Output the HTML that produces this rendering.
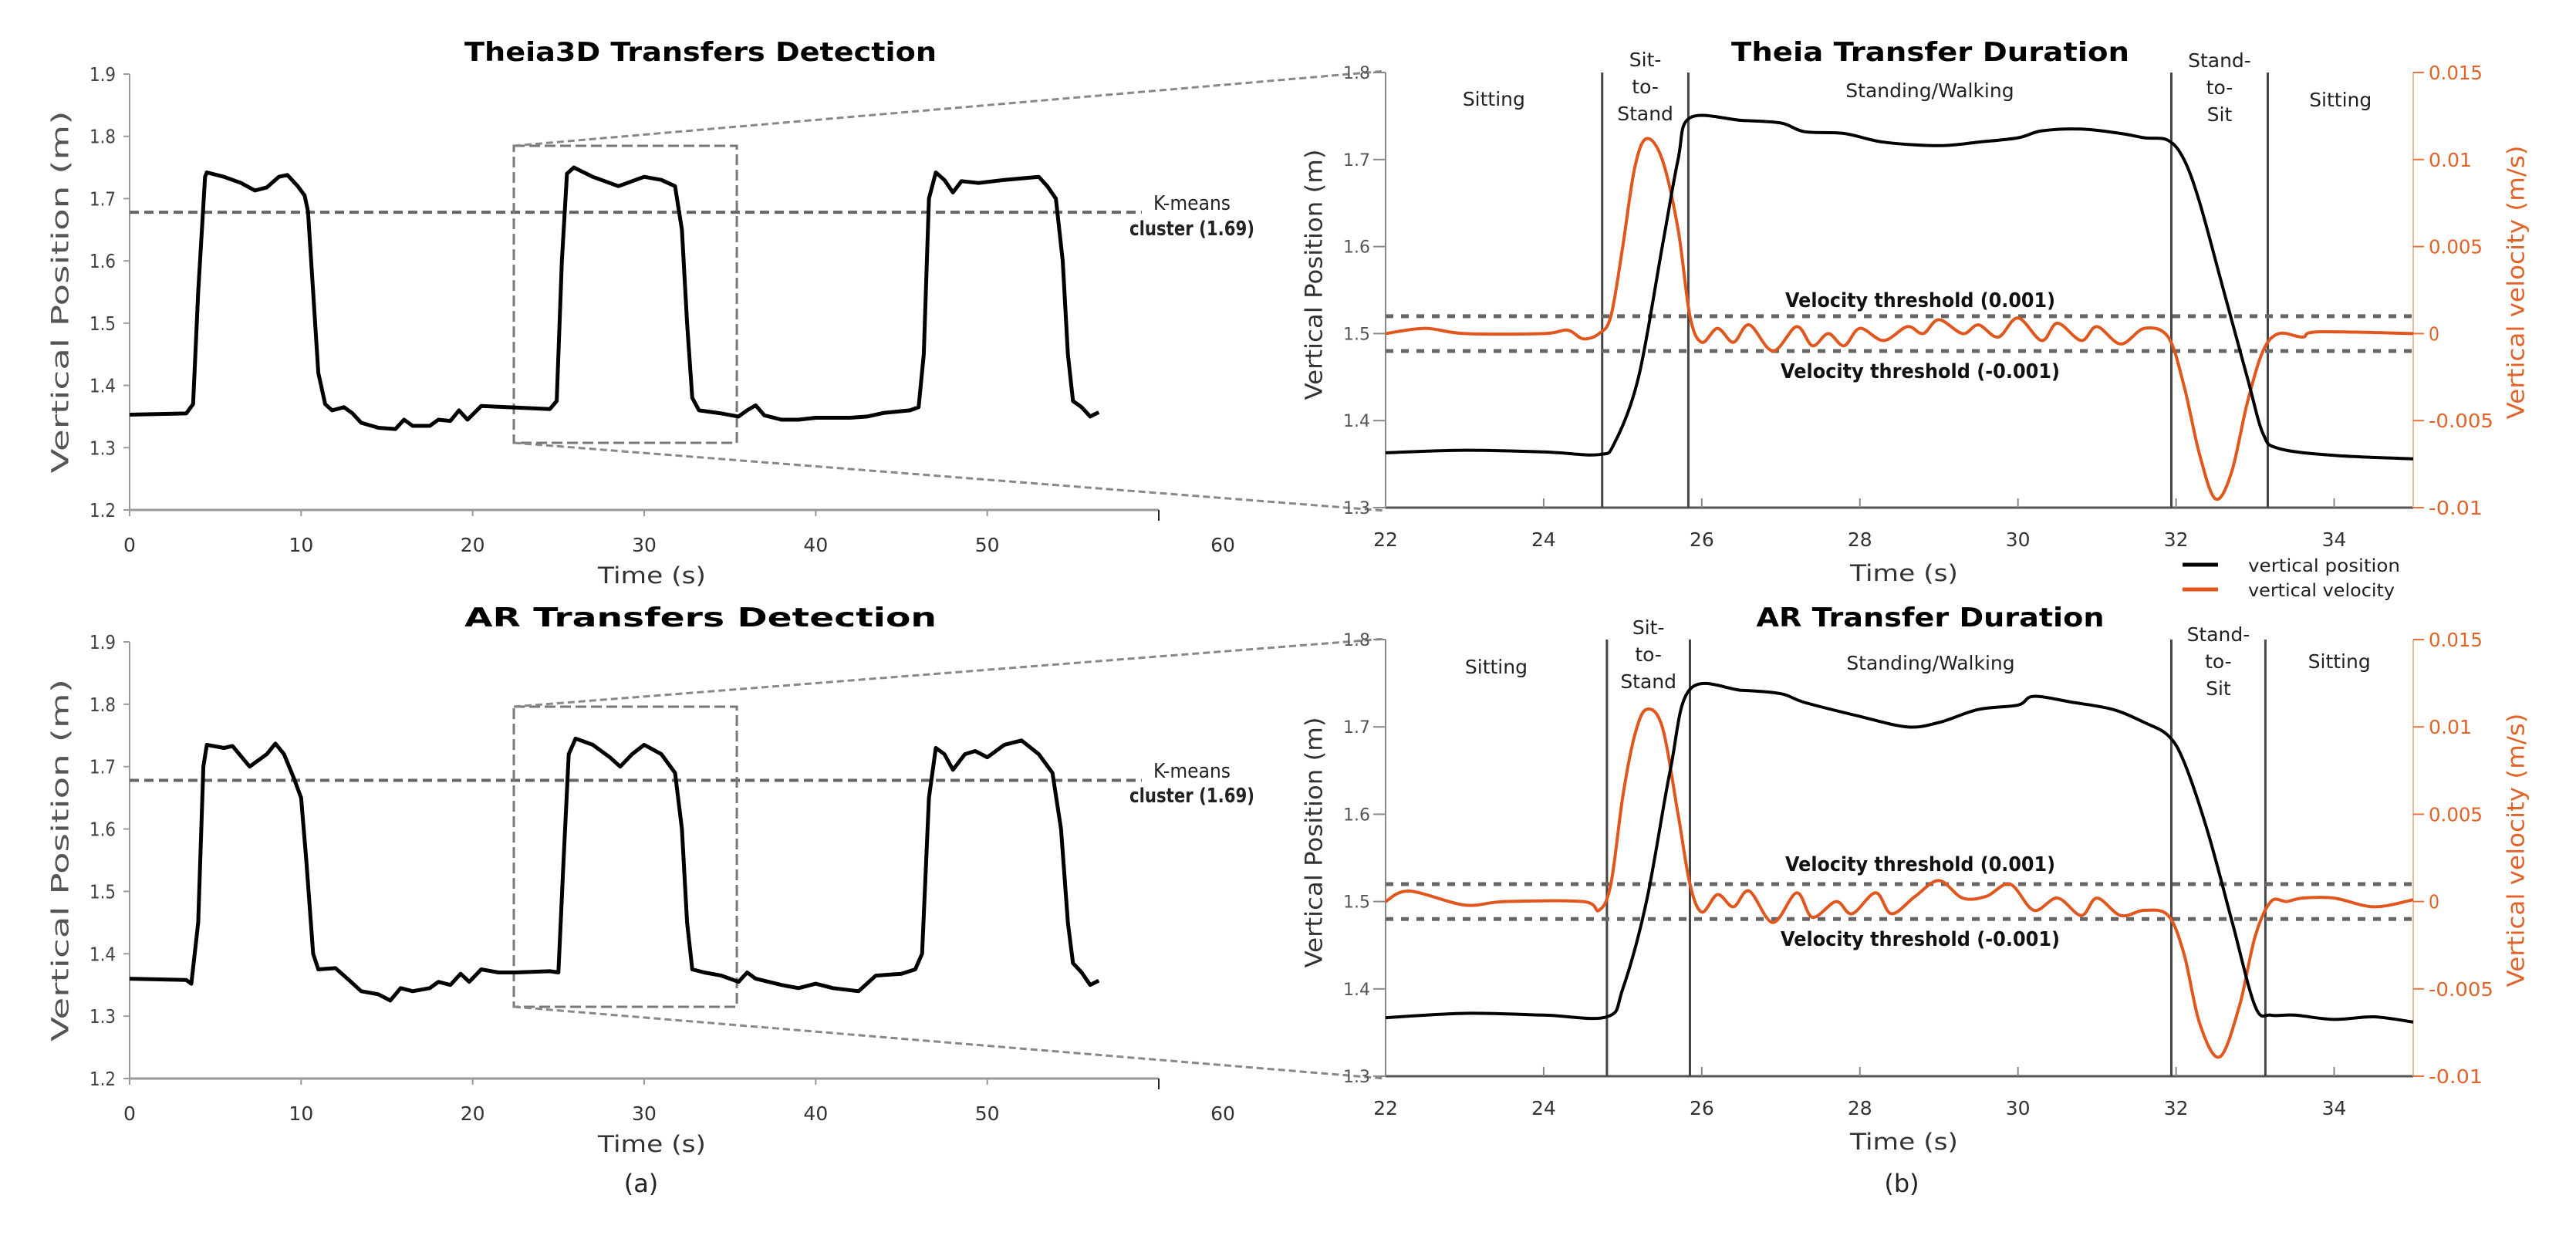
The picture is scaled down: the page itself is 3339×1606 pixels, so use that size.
<!DOCTYPE html>
<html><head><meta charset="utf-8"><style>
html,body{margin:0;padding:0;background:#fff;}
svg{display:block;font-family:"DejaVu Sans","Liberation Sans",sans-serif;}
</style></head><body>
<svg id="fig" width="3339" height="1606" viewBox="0 0 3339 1606" xmlns="http://www.w3.org/2000/svg"></svg>
<script>
// ===== Data =====
const thT=[0,3.3,3.7,4.0,4.4,4.5,5.5,6.5,7.3,8,8.7,9.2,9.8,10.2,10.4,10.7,11.0,11.4,11.8,12.5,13,13.5,14.5,15.5,16,16.5,17.5,18,18.7,19.2,19.7,20.5,22,24.5,24.9,25.2,25.5,25.9,27,28.5,30,31,31.8,32.2,32.5,32.8,33.2,34.5,35.5,36,36.5,37,38,39,40,42,43,44,45.5,46,46.3,46.6,47,47.5,48,48.5,49.5,51,53,53.5,54,54.4,54.7,55,55.5,56,56.5];
const thPos=[1.353,1.355,1.37,1.55,1.735,1.742,1.735,1.725,1.713,1.718,1.735,1.738,1.72,1.705,1.68,1.55,1.42,1.37,1.36,1.365,1.355,1.34,1.332,1.33,1.345,1.335,1.335,1.345,1.343,1.36,1.345,1.367,1.365,1.362,1.375,1.6,1.74,1.75,1.735,1.72,1.735,1.73,1.72,1.65,1.5,1.38,1.36,1.355,1.35,1.36,1.368,1.352,1.345,1.345,1.348,1.348,1.35,1.356,1.36,1.365,1.45,1.7,1.742,1.73,1.71,1.728,1.725,1.73,1.735,1.72,1.7,1.6,1.45,1.375,1.365,1.35,1.357];
const arT=[0,3.3,3.6,4.0,4.3,4.5,5.5,6,7,8,8.5,9,9.6,10,10.3,10.7,11,12,12.7,13.5,14.5,15.2,15.8,16.5,17.5,18,18.7,19.3,19.8,20.5,21.5,22.5,24.5,25,25.3,25.6,26,27,28,28.6,29.3,30,31,31.8,32.2,32.5,32.8,33.5,34.5,35.5,36,36.5,38,39,40,41,42.5,43.5,45,45.8,46.2,46.6,47,47.5,48,48.7,49.3,50,51,52,53,53.8,54.3,54.7,55,55.5,56,56.5];
const arPos=[1.36,1.358,1.352,1.45,1.70,1.735,1.73,1.733,1.70,1.72,1.737,1.72,1.68,1.65,1.55,1.40,1.375,1.377,1.36,1.34,1.335,1.325,1.345,1.34,1.345,1.355,1.35,1.368,1.355,1.375,1.37,1.37,1.372,1.37,1.55,1.72,1.745,1.735,1.715,1.70,1.72,1.735,1.72,1.69,1.60,1.45,1.375,1.37,1.365,1.355,1.37,1.36,1.35,1.345,1.352,1.345,1.34,1.365,1.368,1.375,1.4,1.65,1.73,1.72,1.695,1.72,1.725,1.715,1.735,1.742,1.72,1.69,1.6,1.45,1.385,1.37,1.35,1.357];
const kmeansLevel=[1.678];
const zoomWindow=[22.4,35.4];
const trT=[22,23,24,24.7,24.9,25.2,25.5,25.7,25.85,26.5,27,27.3,27.8,28.3,29,29.5,30,30.3,30.8,31.3,31.6,31.9,32.1,32.3,32.6,32.9,33.1,33.3,34,35];
const trPos=[1.363,1.366,1.364,1.361,1.375,1.45,1.6,1.7,1.748,1.745,1.742,1.732,1.73,1.72,1.716,1.72,1.725,1.733,1.735,1.73,1.725,1.722,1.70,1.65,1.55,1.45,1.385,1.368,1.36,1.356];
const trVT=[22,22.5,23,24,24.3,24.5,24.7,24.85,25,25.15,25.3,25.5,25.7,25.85,26,26.2,26.4,26.6,26.9,27.2,27.4,27.6,27.8,28,28.3,28.6,28.8,29,29.3,29.5,29.75,30,30.3,30.5,30.8,31,31.3,31.6,31.9,32.1,32.3,32.5,32.7,32.9,33.1,33.3,33.6,33.8,35];
const trVel=[0,0.0003,0,0,0.0002,-0.0003,0,0.001,0.005,0.0095,0.0112,0.01,0.006,0.001,-0.0005,0.0003,-0.0005,0.0005,-0.001,0.0004,-0.0007,0,-0.0007,0.0003,-0.0004,0.0004,0,0.0008,0,0.0005,-0.0002,0.0009,-0.0004,0.0006,-0.0004,0.0004,-0.0006,0.0003,-0.0002,-0.003,-0.007,-0.0095,-0.008,-0.004,-0.001,0,-0.0002,0.0001,0];
const trPhases=[24.74,25.83,31.94,33.16];
const brT=[22,23,24,24.8,25,25.3,25.6,25.85,26.5,27,27.3,28,28.6,29,29.5,30,30.2,30.7,31.2,31.6,31.9,32.1,32.4,32.7,33,33.2,33.5,34,34.5,35];
const brPos=[1.367,1.372,1.37,1.368,1.4,1.5,1.65,1.743,1.742,1.738,1.728,1.712,1.70,1.705,1.72,1.725,1.735,1.728,1.72,1.705,1.69,1.66,1.58,1.48,1.38,1.37,1.37,1.365,1.368,1.362];
const brVT=[22,22.3,23,23.5,24.5,24.7,24.85,25,25.15,25.3,25.5,25.7,25.85,26,26.2,26.4,26.6,26.9,27.2,27.4,27.7,27.9,28.2,28.4,28.7,29,29.3,29.6,29.9,30.2,30.5,30.8,31,31.3,31.6,31.9,32.1,32.3,32.55,32.8,33,33.2,33.4,33.6,34,34.5,35];
const brVel=[0,0.0006,-0.0002,0,0,-0.0005,0.001,0.006,0.0095,0.011,0.01,0.005,0.001,-0.0006,0.0004,-0.0003,0.0006,-0.0012,0.0005,-0.0009,0,-0.0007,0.0005,-0.0007,0.0003,0.0012,0.0002,0.0003,0.001,-0.0005,0.0002,-0.0008,0.0002,-0.0008,-0.0005,-0.0008,-0.003,-0.007,-0.0089,-0.006,-0.002,0,0,0.0002,0.0002,-0.0003,0.0001];
const brPhases=[24.8,25.85,31.94,33.13];
const leftXTicks=[0,10,20,30,40,50,60];
const leftYTicks=[1.2,1.3,1.4,1.5,1.6,1.7,1.8,1.9];
const rightXTicks=[22,24,26,28,30,32,34];
const rightYTicks=[1.3,1.4,1.5,1.6,1.7,1.8];
const velTicks=[-0.01,-0.005,0,0.005,0.01,0.015];
const velTickLabels=["-0.01","-0.005","0","0.005","0.01","0.015"];
const velThresholds=[0.001,-0.001];
const phaseNames=["Sitting","Sit-|to-|Stand","Standing/Walking","Stand-|to-|Sit","Sitting"];

const NS="http://www.w3.org/2000/svg";
const svg=document.getElementById('fig');
function el(tag,attrs,parent){const e=document.createElementNS(NS,tag);for(const k in attrs)e.setAttribute(k,attrs[k]);(parent||svg).appendChild(e);return e;}
function txt(s,x,y,attrs,parent){const e=el('text',Object.assign({x:x,y:y},attrs),parent);e.textContent=s;return e;}
function lin(a0,a1,p0,p1){return v=>p0+(v-a0)/(a1-a0)*(p1-p0);}
function pathOf(ts,vs,X,Y){return ts.map((t,i)=>(i?'L':'M')+X(t).toFixed(1)+','+Y(vs[i]).toFixed(1)).join(' ');}
function smoothPath(ts,vs,X,Y){
  const p=ts.map((t,i)=>[X(t),Y(vs[i])]);
  let d='M'+p[0][0].toFixed(1)+','+p[0][1].toFixed(1);
  for(let i=0;i<p.length-1;i++){
    const p0=p[Math.max(0,i-1)],p1=p[i],p2=p[i+1],p3=p[Math.min(p.length-1,i+2)];
    const c1x=p1[0]+(p2[0]-p0[0])/6,c1y=p1[1]+(p2[1]-p0[1])/6;
    const c2x=p2[0]-(p3[0]-p1[0])/6,c2y=p2[1]-(p3[1]-p1[1])/6;
    d+=' C'+c1x.toFixed(1)+','+c1y.toFixed(1)+' '+c2x.toFixed(1)+','+c2y.toFixed(1)+' '+p2[0].toFixed(1)+','+p2[1].toFixed(1);
  }
  return d;
}

// ===== Left panels =====
function leftPanel(name,y19,y12,tPts,pPts,title,titleY,kmY1,kmY2,boxTop,boxBot,rtTop,rtBot){
  const g=el('g',{});
  
  
  const X=lin(0,60,168,1502), Y=lin(1.2,1.9,y12,y19);
  const t=txt(title,908,titleY,{'font-size':34,'font-weight':'bold','text-anchor':'middle','textLength':612,'lengthAdjust':'spacingAndGlyphs'},g);
  
  
  el('line',{x1:168,y1:y19,x2:168,y2:y12,stroke:'#999','stroke-width':2},g);
  el('line',{x1:168,y1:y12,x2:1502,y2:y12,stroke:'#999','stroke-width':3},g);
  el('line',{x1:1502,y1:y12,x2:1502,y2:y12+14,stroke:'#222','stroke-width':2},g);
  leftYTicks.forEach(v=>{
    el('line',{x1:160,y1:Y(v),x2:168,y2:Y(v),stroke:'#999','stroke-width':2},g);
    const l=txt(v.toFixed(1),150,Y(v)+9,{'font-size':25,'text-anchor':'end',fill:'#444','textLength':34,'lengthAdjust':'spacingAndGlyphs'},g);
    
    
  });
  leftXTicks.forEach(v=>{
    const xx=v===60?1585:X(v);
    if(v<60) el('line',{x1:X(v),y1:y12,x2:X(v),y2:y12+8,stroke:'#999','stroke-width':2},g);
    const l=txt(String(v),xx,y12+54,{'font-size':25,'text-anchor':'middle',fill:'#333'},g);
    
    
  });
  const xt=txt('Time (s)',X(30)+10,y12+95,{'font-size':29,'text-anchor':'middle',fill:'#333','textLength':140,'lengthAdjust':'spacingAndGlyphs'},g);
  
  
  const cy=(y19+y12)/2;
  const yt=txt('Vertical Position (m)',80,cy,{'font-size':30,'text-anchor':'middle',fill:'#555',transform:'rotate(-90 80 '+cy+')','textLength':470,'lengthAdjust':'spacingAndGlyphs','dominant-baseline':'middle'},g);
  
  
  const km=el('line',{x1:168,y1:Y(kmeansLevel[0]),x2:1480,y2:Y(kmeansLevel[0]),stroke:'#666','stroke-width':4,'stroke-dasharray':'12 7'},g);
  
  
  const k1=txt('K-means',1545,kmY1,{'font-size':26,'text-anchor':'middle',fill:'#222','textLength':100,'lengthAdjust':'spacingAndGlyphs'},g);
  
  
  const k2=txt('cluster (1.69)',1545,kmY2,{'font-size':26,'text-anchor':'middle',fill:'#222','font-weight':'bold','textLength':162,'lengthAdjust':'spacingAndGlyphs'},g);
  
  
  const bx1=X(zoomWindow[0]), bx2=X(zoomWindow[1]);
  const bx=el('rect',{x:bx1,y:boxTop,width:bx2-bx1,height:boxBot-boxTop,fill:'none',stroke:'#777','stroke-width':3,'stroke-dasharray':'14 6'},g);
  
  
  el('line',{x1:bx1,y1:boxTop,x2:1796,y2:rtTop,stroke:'#888','stroke-width':3,'stroke-dasharray':'9 5'},g);
  el('line',{x1:bx1,y1:boxBot,x2:1796,y2:rtBot,stroke:'#888','stroke-width':3,'stroke-dasharray':'9 5'},g);
  const p=el('path',{d:pathOf(tPts,pPts,X,Y),fill:'none',stroke:'#000','stroke-width':5,'stroke-linejoin':'round'},g);
  
  
}
leftPanel('theia3d-detection-chart',96,661,thT,thPos,'Theia3D Transfers Detection',79,272,305,189,574,92,662);
leftPanel('ar-detection-chart',832,1398,arT,arPos,'AR Transfers Detection',812,1008,1040,916,1305,828,1398);
const la=txt('(a)',831,1545,{'font-size':32,'text-anchor':'middle',fill:'#222'});



// ===== Right panels =====
function rightPanel(name,yTop,yBot,tP,pP,tV,vV,phases,title,titleY,labelYs,thrLabY){
  const g=el('g',{});
  
  
  const X=lin(22,35,1796,3128), Y=lin(1.3,1.8,yBot,yTop), V=lin(-0.01,0.015,yBot,yTop);
  const t=txt(title,2502,titleY,{'font-size':34,'font-weight':'bold','text-anchor':'middle','textLength':title.length>21?516:451,'lengthAdjust':'spacingAndGlyphs'},g);
  
  
  el('line',{x1:1796,y1:yTop,x2:1796,y2:yBot,stroke:'#888','stroke-width':2},g);
  el('line',{x1:1796,y1:yBot,x2:3128,y2:yBot,stroke:'#555','stroke-width':3},g);
  el('line',{x1:3128,y1:yTop,x2:3128,y2:yBot,stroke:'#f2b89a','stroke-width':2},g);
  rightYTicks.forEach(v=>{
    el('line',{x1:1780,y1:Y(v),x2:1796,y2:Y(v),stroke:'#888','stroke-width':2},g);
    const l=txt(v.toFixed(1),1776,Y(v)+8,{'font-size':22,'text-anchor':'end',fill:'#555'},g);
    
    
  });
  velTicks.forEach((v,i)=>{
    el('line',{x1:3128,y1:V(v),x2:3142,y2:V(v),stroke:'#e8703a','stroke-width':2},g);
    const l=txt(velTickLabels[i],3148,V(v)+9,{'font-size':25,fill:'#e0642a','textLength':velTickLabels[i].length*14,'lengthAdjust':'spacingAndGlyphs'},g);
    
    
  });
  rightXTicks.forEach(v=>{
    el('line',{x1:X(v),y1:yBot,x2:X(v),y2:yBot-12,stroke:'#888','stroke-width':2},g);
    const l=txt(String(v),X(v),yBot+50,{'font-size':25,'text-anchor':'middle',fill:'#333'},g);
    
    
  });
  const xt=txt('Time (s)',2468,yBot+95,{'font-size':29,'text-anchor':'middle',fill:'#333','textLength':140,'lengthAdjust':'spacingAndGlyphs'},g);
  
  
  const cy=(yTop+yBot)/2-20;
  const yt=txt('Vertical Position (m)',1705,cy,{'font-size':30,'text-anchor':'middle',fill:'#333',transform:'rotate(-90 1705 '+cy+')','textLength':325,'lengthAdjust':'spacingAndGlyphs','dominant-baseline':'middle'},g);
  
  
  const cy2=(yTop+yBot)/2-10;
  const yt2=txt('Vertical velocity (m/s)',3263,cy2,{'font-size':30,'text-anchor':'middle',fill:'#e0642a',transform:'rotate(-90 3263 '+cy2+')','textLength':355,'lengthAdjust':'spacingAndGlyphs','dominant-baseline':'middle'},g);
  
  
  phases.forEach(p=>{
    const l=el('line',{x1:X(p),y1:yTop,x2:X(p),y2:yBot,stroke:'#444','stroke-width':3},g);
    
    
  });
  const bounds=[22].concat(phases).concat([35]);
  phaseNames.forEach((n,i)=>{
    const cx=(X(bounds[i])+X(bounds[i+1]))/2;
    const parts=n.split('|');
    const ys=parts.length===1?[labelYs[i]]:labelYs[i];
    parts.forEach((s,j)=>{
      const l=txt(s,cx,ys[j],{'font-size':25,'text-anchor':'middle',fill:'#222'},g);
      
      
    });
  });
  velThresholds.forEach((v,i)=>{
    const l=el('line',{x1:1796,y1:V(v),x2:3128,y2:V(v),stroke:'#666','stroke-width':5,'stroke-dasharray':'10 10'},g);
    
    
    const tl=txt('Velocity threshold ('+(v>0?'0.001':'-0.001')+')',2489,thrLabY[i],{'font-size':26,'font-weight':'bold','text-anchor':'middle',fill:'#111','textLength':i?362:350,'lengthAdjust':'spacingAndGlyphs'},g);
    
    
  });
  const pv=el('path',{d:smoothPath(tV,vV,X,V),fill:'none',stroke:'#e0561c','stroke-width':4,'stroke-linejoin':'round'},g);
  
  
  const pp=el('path',{d:smoothPath(tP,pP,X,Y),fill:'none',stroke:'#000','stroke-width':4,'stroke-linejoin':'round'},g);
  
  
}
rightPanel('theia-duration-chart',94,658,trT,trPos,trVT,trVel,trPhases,'Theia Transfer Duration',79,
  [137,[86,121,156],126,[87,122,157],138],[398,490]);
rightPanel('ar-duration-chart',829,1395,brT,brPos,brVT,brVel,brPhases,'AR Transfer Duration',812,
  [873,[822,857,892],868,[831,866,901],866],[1129,1226]);

const lg=el('g',{});


el('line',{x1:2829,y1:732,x2:2875,y2:732,stroke:'#000','stroke-width':5},lg);
el('line',{x1:2829,y1:764,x2:2875,y2:764,stroke:'#e0561c','stroke-width':5},lg);
const l1=txt('vertical position',2914,741,{'font-size':23,fill:'#222','textLength':197,'lengthAdjust':'spacingAndGlyphs'},lg);


const l2=txt('vertical velocity',2914,773,{'font-size':23,fill:'#222','textLength':190,'lengthAdjust':'spacingAndGlyphs'},lg);


const lb=txt('(b)',2465,1545,{'font-size':32,'text-anchor':'middle',fill:'#222'});


</script>
</body></html>
